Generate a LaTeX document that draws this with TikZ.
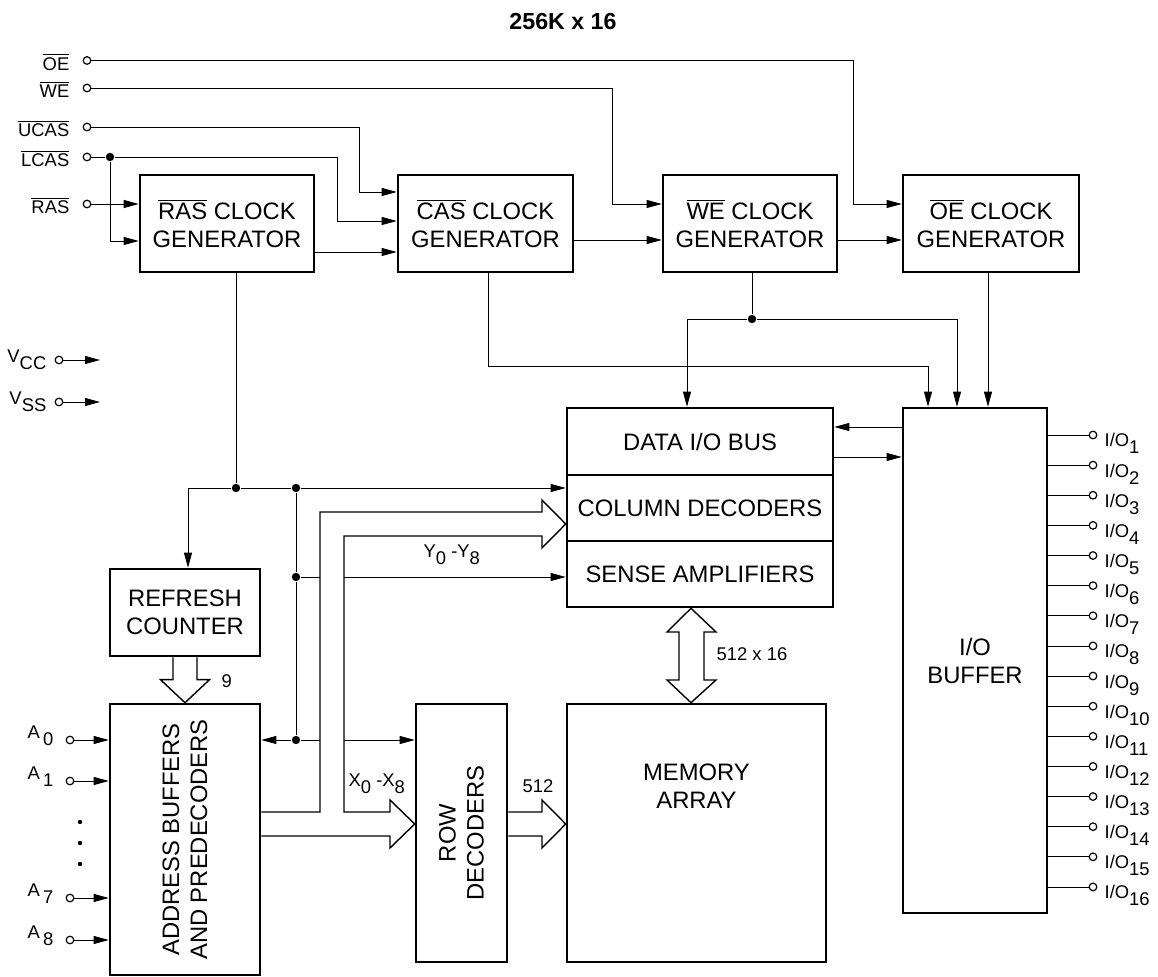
\documentclass[tikz,border=0pt]{standalone}
\usepackage{fontspec}
\setmainfont{Liberation Sans}
\usetikzlibrary{arrows.meta,calc,backgrounds}

\newcommand{\lo}[1]{\raisebox{-3.5pt}{#1}}
\newcommand{\ovl}[1]{$\overline{\mbox{#1}}$}
\newcommand{\blkfont}{\fontsize{11.9}{14}\selectfont}
\newcommand{\pinfont}{\fontsize{9.2}{11}\selectfont}

\begin{document}
\begin{tikzpicture}[
    x=0.5pt, y=-0.5pt,
    >={Triangle[length=7.5pt,width=4pt]},
    line width=0.7pt,
    blk/.style 2 args={draw, line width=1.3pt, minimum width=#1*0.5pt, minimum height=#2*0.5pt, inner sep=0pt, align=center, font=\blkfont},
    pin/.style={circle, draw, fill=white, line width=0.6pt, inner sep=0pt, minimum size=3.8pt},
    dot/.style={circle, fill, inner sep=0pt, minimum size=4.2pt},
    lbl/.style={font=\pinfont, inner sep=0pt},
    bus/.style={fill=white, line width=0.7pt, line join=miter}
]
    \useasboundingbox (0,0) rectangle (1158,977);
    \node[font=\bfseries\fontsize{11.6}{14}\selectfont] (title) at (563,22) {256K x 16};

    % clock generators
    \node[blk={174}{97}] (ras) at (227,223.5) {\ovl{RAS} CLOCK\\GENERATOR};
    \node[blk={175}{97}] (cas) at (485.5,223.5) {\ovl{CAS} CLOCK\\GENERATOR};
    \node[blk={174}{97}] (we) at (750,223.5) {\ovl{WE} CLOCK\\GENERATOR};
    \node[blk={176}{97}] (oe) at (991,223.5) {\ovl{OE} CLOCK\\GENERATOR};

    % array blocks
    \node[blk={266}{67}] (databus) at (700,441.5) {DATA I/O BUS};
    \node[blk={266}{66}] (coldec) at (700,508) {COLUMN DECODERS};
    \node[blk={266}{66}] (senseamp) at (700,574) {SENSE AMPLIFIERS};
    \node[blk={144}{505}] (iobuf) at (975,660.5) {I/O\\BUFFER};
    \node[blk={150}{87}] (refresh) at (185,612.5) {REFRESH\\COUNTER};
    \node[blk={150}{271}] (addr) at (185,839.5) {};
    \node[rotate=90, align=center, font=\blkfont] (addrtxt) at (addr) {ADDRESS BUFFERS\\AND PREDECODERS};
    \node[blk={91}{258}] (rowdec) at (461.5,833) {};
    \node[rotate=90, align=center, font=\blkfont] (rowtxt) at (rowdec) {ROW\\DECODERS};
    \node[blk={259}{258}] (memarr) at (696.5,833) {};
    \node[align=center, font=\blkfont] (memtxt) at ($(memarr.center)+(0,-47)$) {MEMORY\\ARRAY};

    % control pins
    \foreach \nm/\y in {OE/60.5, WE/88, UCAS/127, LCAS/157, RAS/204} {
        \node[pin] (p\nm) at (87,\y) {};
        \node[lbl, anchor=base east] (l\nm) at (70,\y+10) {\ovl{\nm}};
    }
    \node[dot] (jL) at (110,157) {};

    % supply pins
    \node[pin] (pVCC) at (59,360) {};
    \node[lbl, anchor=base east] (lVCC) at (47,363) {V\lo{CC}};
    \coordinate (eVCC) at (100,360);
    \node[pin] (pVSS) at (59,402) {};
    \node[lbl, anchor=base east] (lVSS) at (47,405) {V\lo{SS}};
    \coordinate (eVSS) at (100,402);

    % address pins
    \foreach \i/\y in {0/740, 1/781, 7/898, 8/940} {
        \node[pin] (pA\i) at (70,\y) {};
        \node[lbl, anchor=base east] (lA\i) at (54,\y-1) {A\,\lo{\i}};
    }
    \foreach \y in {822,843,864}
        \fill (80,\y) circle (1.1pt);

    % data pins
    \foreach \i in {1,...,16} {
        \pgfmathsetmacro\y{435+(\i-1)*30.13}
        \node[pin] (io\i) at (1093,\y) {};
        \node[lbl, anchor=base west] (lio\i) at (1104,\y+12) {I/O\lo{\i}};
    }

    % junctions
    \node[dot] (jW) at (752,319) {};
    \node[dot] (j1) at (236,488) {};
    \node[dot] (j2) at (296,488) {};
    \node[dot] (j3) at (296,577) {};
    \node[dot] (j4) at (296,740) {};

    % bus labels
    \node[lbl, anchor=base west] (n9) at (221,688) {9};
    \node[lbl, anchor=base west] (xlab) at (348,787) {X\lo{0} -X\lo{8}};
    \node[lbl, anchor=base west] (ylab) at (423,558) {Y\lo{0} -Y\lo{8}};
    \node[lbl, anchor=base west] (n512) at (522,793) {512};
    \node[lbl, anchor=base west] (n512x) at (716,661) {512 x 16};

    \begin{pgfonlayer}{background}
    % control inputs
    \draw[->] (pOE) -| ($(oe.west)+(-48,-19.5)$) -- ($(oe.west)+(0,-19.5)$);
    \draw[->] (pWE) -| ($(we.west)+(-49,-19.5)$) -- ($(we.west)+(0,-19.5)$);
    \draw[->] (pUCAS) -| ($(cas.west)+(-37,-31.5)$) -- ($(cas.west)+(0,-31.5)$);
    \draw[->] (pLCAS) -- (jL) -| ($(cas.west)+(-59,-2.5)$) -- ($(cas.west)+(0,-2.5)$);
    \draw[->] (jL) |- ($(ras.west)+(0,17.5)$);
    \draw[->] (pRAS) -- (ras.west |- pRAS);

    % clock chain
    \draw[->] ($(ras.east)+(0,28.5)$) -- ($(cas.west)+(0,28.5)$);
    \draw[->] ($(cas.east)+(0,16.5)$) -- ($(we.west)+(0,16.5)$);
    \draw[->] ($(we.east)+(0,16.5)$) -- ($(oe.west)+(0,16.5)$);

    % clocks to I/O
    \draw[->] ($(cas.south)+(2.5,0)$) |- ($(iobuf.north)+(-47,-40)$) -- ($(iobuf.north)+(-47,0)$);
    \draw ($(we.south)+(2,0)$) -- (jW);
    \draw[->] (jW) -| ($(databus.north)+(-13,0)$);
    \draw[->] (jW) -| ($(iobuf.north)+(-18,0)$);
    \draw[->] ($(oe.south)+(-3,0)$) -- ($(iobuf.north)+(13,0)$);
    \coordinate (busin) at ($(databus.east)+(0,-14.5)$);
    \coordinate (busout) at ($(databus.east)+(0,15.5)$);
    \draw[->] (iobuf.west |- busin) -- (busin);
    \draw[->] (busout) -- (iobuf.west |- busout);

    % RAS clock distribution
    \draw ($(ras.south)+(9,0)$) -- (j1);
    \draw[->] (j1) -| ($(refresh.north)+(3,0)$);
    \draw (j1) -- (j2) -- (j3) -- (j4);
    \draw[->] (j2) -- (coldec.west |- j2);
    \draw[->] (j3) -- (senseamp.west |- j3);
    \draw[->] (j4) -- (addr.east |- j4);
    \draw[->] (j4) -- (rowdec.west |- j4);

    % pins
    \foreach \i in {0,1,7,8}
        \draw[->] (pA\i) -- (addr.west |- pA\i);
    \foreach \i in {1,...,16}
        \draw (iobuf.east |- io\i) -- (io\i);
    \draw[->] (pVCC) -- (eVCC);
    \draw[->] (pVSS) -- (eVSS);

    % wide buses
    \draw[bus] ($(refresh.south)+(-12,0)$) |- ($(addr.north)+(-24.5,-23)$) -- (addr.north)
        -- ($(addr.north)+(24.5,-23)$) -| ($(refresh.south)+(12,0)$);
    \draw[bus] (addr.east |- 0,812) -- (320,812) -- (320,512) -- (542,512) -- (542,500)
        -- (coldec.west |- 0,524) -- (542,548) -- (542,536) -- (344,536) -- (344,812)
        -- (390,812) -- (390,800) -- (rowdec.west |- 0,824) -- (390,848) -- (390,836)
        -- (addr.east |- 0,836);
    \draw[bus] (rowdec.east |- 0,812) -- (542,812) -- (542,800) -- (memarr.west |- 0,824)
        -- (542,848) -- (542,836) -- (rowdec.east |- 0,836);
    \draw[bus] (senseamp.south -| 691,0) -- (716,632) -- (704,632) -- (704,680) -- (716,680)
        -- (memarr.north -| 691,0) -- (667,680) -- (679,680) -- (679,632) -- (667,632) -- cycle;
    \end{pgfonlayer}
\end{tikzpicture}
\end{document}
